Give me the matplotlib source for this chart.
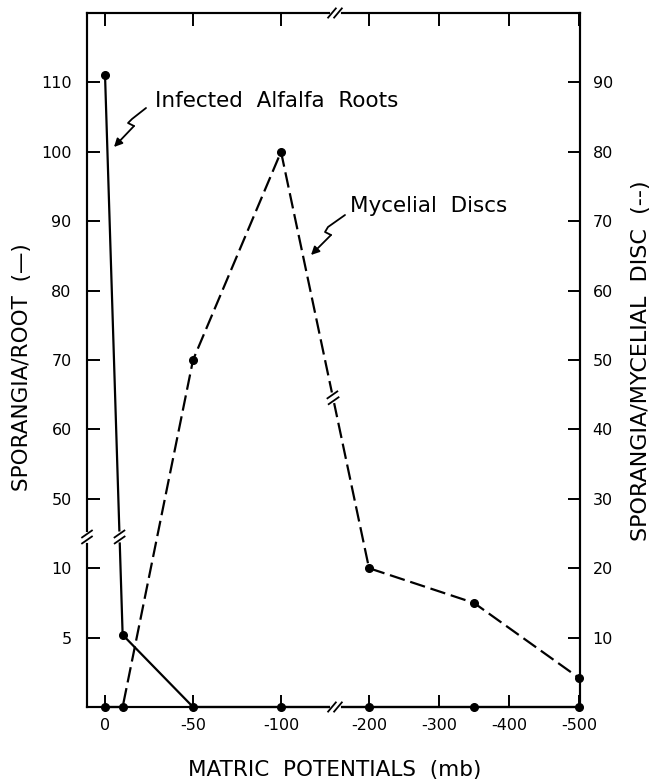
import numpy as np
import matplotlib
matplotlib.use('Agg')
import matplotlib.pyplot as plt
from matplotlib.lines import Line2D
from matplotlib.transforms import IdentityTransform

# ---- data ----
potentials = [0, -10, -50, -100, -200, -350, -500]
roots = [111, 5.2, 0, 0, 0, 0, 0]
discs = [0, 0, 50, 80, 20, 15, 4.2]

x_ticks = [0, -50, -100, -200, -300, -400, -500]
x_ticklabels = ['0', '-50', '-100', '-200', '-300', '-400', '-500']
left_ticks = [5, 10, 50, 60, 70, 80, 90, 100, 110]
left_ticklabels = ['5', '10', '50', '60', '70', '80', '90', '100', '110']
right_ticks = [10, 20, 30, 40, 50, 60, 70, 80, 90]
right_ticklabels = ['10', '20', '30', '40', '50', '60', '70', '80', '90']

plt.rcParams['font.family'] = ['DejaVu Sans']

W, H = 658, 783
fig = plt.figure(figsize=(W / 100, H / 100), dpi=100)
L, R, T, B = 87, 580, 13, 707
ax = fig.add_axes([L / W, 1 - B / H, (R - L) / W, (B - T) / H])

RS = 0.00795


# increasing mapping (x -> -position); axis inverted afterwards
def xfwd(x):
    m = -np.asarray(x, dtype=float)
    return -np.where(m <= 100, m / 50.0,
                     np.where(m <= 200, 2 + (m - 100) / 100.0, 3 + (m - 200) * RS))


def xinv(u):
    u = -np.asarray(u, dtype=float)
    return -np.where(u <= 2, u * 50.0,
                     np.where(u <= 3, 100 + (u - 2) * 100.0, 200 + (u - 3) / RS))


def yfwd(v):
    v = np.asarray(v, dtype=float)
    return np.where(v <= 10, 2 * v, np.where(v < 50, 20 + (v - 10) / 4.0, v - 20))


def yinv(u):
    u = np.asarray(u, dtype=float)
    return np.where(u <= 20, u / 2.0, np.where(u < 30, 10 + (u - 20) * 4.0, u + 20))


ax.set_xscale('function', functions=(xfwd, xinv))
ax.set_yscale('function', functions=(yfwd, yinv))
ax.set_xlim(-501.6, 10.25)
ax.invert_xaxis()
ax.set_ylim(0, 120)

ax2 = ax.twinx()
ax2.set_ylim(0, 100)

lw = 1.6
ax.plot(potentials, roots, color='black', lw=lw, marker='o', ms=5.5,
        clip_on=False, zorder=5, solid_joinstyle='miter')
ax2.plot(potentials, discs, color='black', lw=lw, ls=(0, (7, 2.6)),
         marker='o', ms=5.5, clip_on=False, zorder=5)

ax.set_xticks(x_ticks)
ax.set_xticklabels(x_ticklabels)
ax.set_yticks(left_ticks)
ax.set_yticklabels(left_ticklabels)
ax.xaxis.set_minor_locator(matplotlib.ticker.NullLocator())
ax.yaxis.set_minor_locator(matplotlib.ticker.NullLocator())
ax2.set_yticks(right_ticks)
ax2.set_yticklabels(right_ticklabels)
ax2.yaxis.set_minor_locator(matplotlib.ticker.NullLocator())

for a in (ax, ax2):
    for s in a.spines.values():
        s.set_linewidth(1.5)
ax.tick_params(axis='x', which='major', direction='in', length=9, width=1.4,
               top=True, labeltop=False, pad=8, labelsize=11.5)
ax.tick_params(axis='y', which='major', direction='in', length=9, width=1.4,
               pad=11, labelsize=11.5)
ax2.tick_params(axis='y', which='major', direction='in', length=9, width=1.4,
                pad=9, labelsize=11.5)

# axis titles
fig.text(22 / W, 1 - 367 / H, 'SPORANGIA/ROOT  (—)', rotation=90,
         ha='center', va='center', fontsize=15.5)
fig.text(641 / W, 1 - 361 / H, 'SPORANGIA/MYCELIAL  DISC  (--)', rotation=90,
         ha='center', va='center', fontsize=16)
fig.text(335 / W, 1 - 770 / H, 'MATRIC  POTENTIALS  (mb)',
         ha='center', va='center', fontsize=15.5)

# annotations
fig.text(155 / W, 1 - 101 / H, 'Infected  Alfalfa  Roots', ha='left', va='center', fontsize=15.5)
fig.text(350 / W, 1 - 206 / H, 'Mycelial  Discs', ha='left', va='center', fontsize=15.5)


def squiggle(pts):
    xs = [p[0] / W for p in pts]
    ys = [1 - p[1] / H for p in pts]
    fig.add_artist(Line2D(xs[:-1], ys[:-1], color='black', lw=1.3,
                          transform=fig.transFigure, solid_capstyle='round'))
    ax.annotate('', xy=(pts[-1][0], H - pts[-1][1]), xycoords='figure pixels',
                xytext=(pts[-2][0], H - pts[-2][1]), textcoords='figure pixels',
                arrowprops=dict(arrowstyle='-|>', color='black', lw=1.3,
                                mutation_scale=12, shrinkA=0, shrinkB=0))


squiggle([(146, 108), (132, 119), (128, 123), (134, 126), (114, 147)])
squiggle([(345, 215), (328, 227), (325, 232), (331, 235), (311, 255)])


# break marks (display pixel coordinates, origin bottom-left)
def brk(xc, yc, ldir, mang, mlen=12, gap=3):
    ux, uy = np.cos(np.radians(ldir)), np.sin(np.radians(ldir))
    fig.add_artist(Line2D([xc - gap * ux, xc + gap * ux], [yc - gap * uy, yc + gap * uy],
                          color='white', lw=3.5, transform=IdentityTransform(), zorder=20))
    mx, my = np.cos(np.radians(mang)), np.sin(np.radians(mang))
    for s in (-gap, gap):
        cx, cy = xc + s * ux, yc + s * uy
        fig.add_artist(Line2D([cx - mlen / 2 * mx, cx + mlen / 2 * mx],
                              [cy - mlen / 2 * my, cy + mlen / 2 * my],
                              color='black', lw=1.3, transform=IdentityTransform(), zorder=21))


fig.canvas.draw()
# x-axis break (top and bottom spines)
xb_disp = ax.transAxes.transform((0.503, 0))[0]
y_bot = ax.transAxes.transform((0, 0))[1]
y_top = ax.transAxes.transform((0, 1))[1]
brk(xb_disp, y_bot, 0, 50)
brk(xb_disp, y_top, 0, 50)
# y-axis break on left spine
yb_disp = ax.transData.transform((0, 28))[1]
x_left = ax.transAxes.transform((0, 0))[0]
brk(x_left, yb_disp, 90, 35)
# break on roots line
p1 = ax.transData.transform((potentials[0], roots[0]))
p2 = ax.transData.transform((potentials[1], roots[1]))
t = (yb_disp - p1[1]) / (p2[1] - p1[1])
xr = p1[0] + t * (p2[0] - p1[0])
ang = np.degrees(np.arctan2(p2[1] - p1[1], p2[0] - p1[0]))
brk(xr, yb_disp, ang, 35)
# break on discs line
xb_line = ax.transAxes.transform((0.499, 0))[0]
q1 = ax2.transData.transform((potentials[3], discs[3]))
q2 = ax2.transData.transform((potentials[4], discs[4]))
t = (xb_line - q1[0]) / (q2[0] - q1[0])
yq = q1[1] + t * (q2[1] - q1[1])
ang = np.degrees(np.arctan2(q2[1] - q1[1], q2[0] - q1[0]))
brk(xb_line, yq, ang, 35)

fig.savefig('out.png', dpi=100)
